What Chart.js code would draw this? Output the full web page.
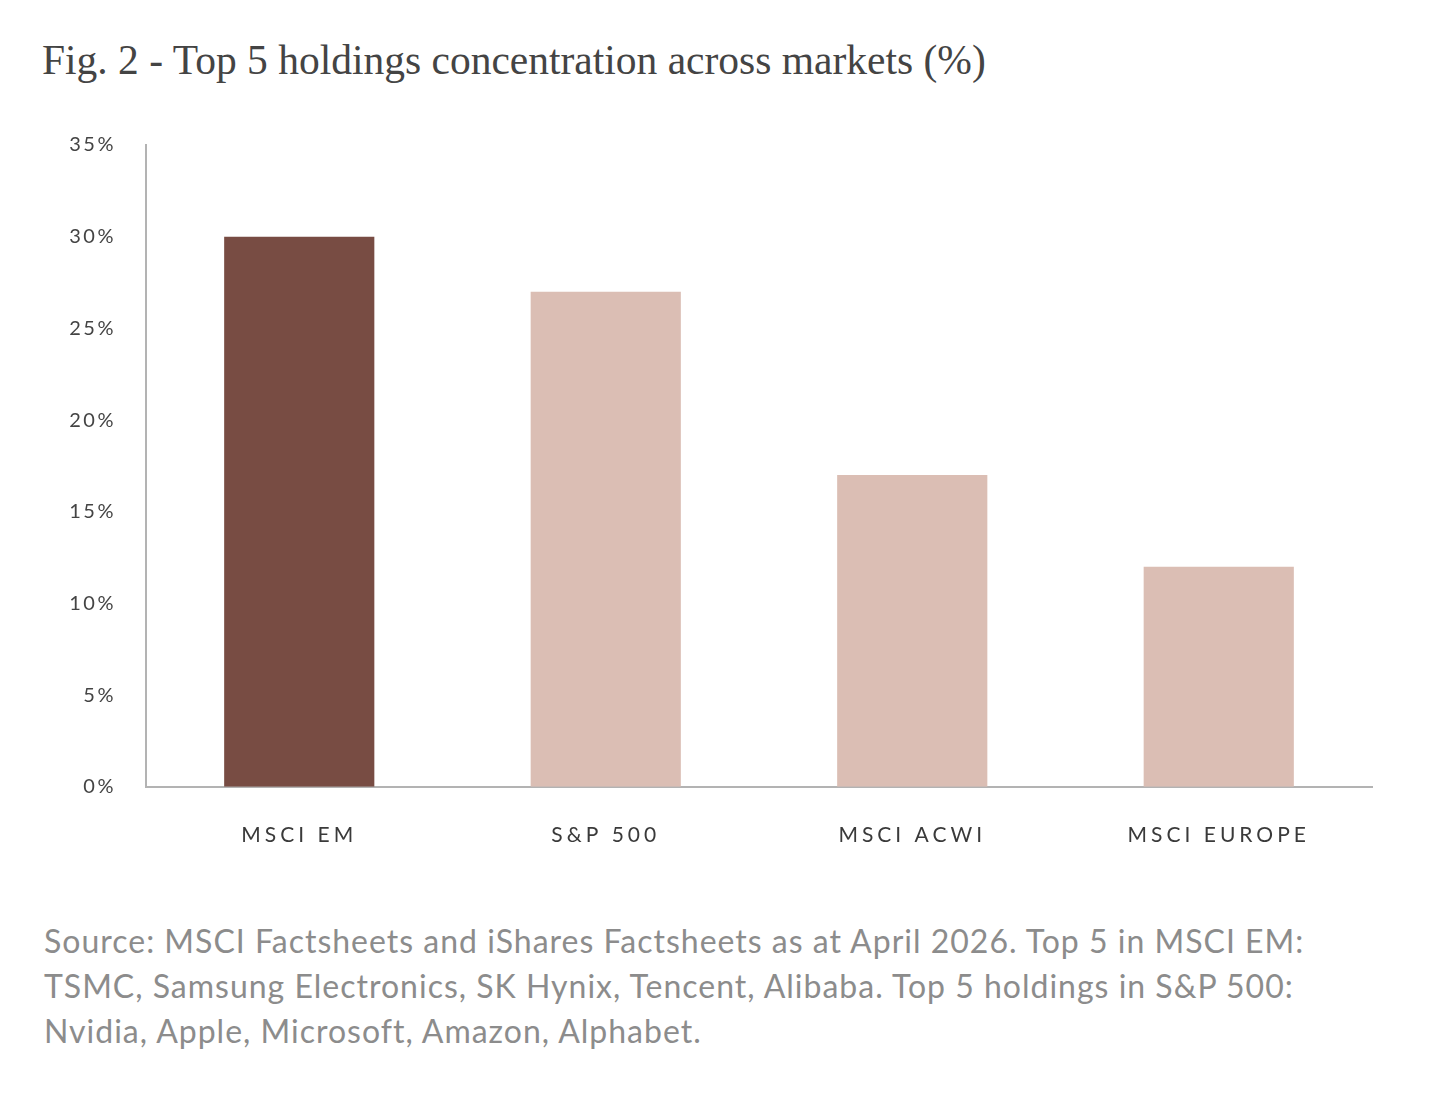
<!DOCTYPE html>
<html>
<head>
<meta charset="utf-8">
<script src="https://cdn.jsdelivr.net/npm/chart.js@4"></script>
<style>
    html, body { margin: 0; padding: 0; background: #fff; }
    body { width: 1444px; height: 1114px; position: relative; overflow: hidden; }
    #title {
        position: absolute; left: 42px; top: 40px;
        font-family: 'Liberation Serif', serif; font-size: 41.5px; line-height: 1; color: #444;
        white-space: nowrap;
    }
    #wrap { position: absolute; left: 0; top: 103px; width: 1444px; height: 781px; }
    #source {
        position: absolute; left: 44px; top: 918px;
        font-family: 'Lato', sans-serif; font-size: 32px; line-height: 45px; color: #8c8c8c;
        letter-spacing: 1px; white-space: nowrap;
    }
</style>
</head>
<body>
<div id="title">Fig. 2 - Top 5 holdings concentration across markets (%)</div>
<div id="wrap"><canvas id="graph"></canvas></div>
<div id="source">Source: MSCI Factsheets and iShares Factsheets as at April 2026. Top 5 in MSCI EM:<br>TSMC, Samsung Electronics, SK Hynix, Tencent, Alibaba. Top 5 holdings in S&amp;P 500:<br>Nvidia, Apple, Microsoft, Amazon, Alphabet.</div>
<script>
const markets = ['MSCI EM', 'S&P 500', 'MSCI ACWI', 'MSCI EUROPE'];
const top5Share = [30, 27, 17, 12];
const barColors = ['#784c43', '#dbbeb4', '#dbbeb4', '#dbbeb4'];
const yTicks = [0, 5, 10, 15, 20, 25, 30, 35];

// letter spacing for the axis labels (canvas ignores css letter-spacing)
function trackLabels(scale, spacing) {
    if (scale._tracked) return;
    const orig = scale.drawLabels;
    scale.drawLabels = function (area) {
        const ctx = this.ctx;
        ctx.save();
        ctx.letterSpacing = spacing;
        orig.call(this, area);
        ctx.restore();
    };
    scale._tracked = true;
}

const spacedLabels = {
    id: 'spacedLabels',
    afterLayout: function (chart) {
        trackLabels(chart.scales.x, '4px');
        trackLabels(chart.scales.y, '2.5px');
    }
};

const context = document.getElementById('graph');
new Chart(context, {
    type: 'bar',
    data: {
        labels: markets,
        datasets: [{
            data: top5Share,
            backgroundColor: barColors,
            barPercentage: 0.49,
            categoryPercentage: 1
        }]
    },
    options: {
        responsive: true,
        maintainAspectRatio: false,
        animation: false,
        layout: { padding: { left: 0, right: 72, top: 22, bottom: 0 } },
        plugins: { legend: { display: false }, tooltip: { enabled: false } },
        scales: {
            x: {
                grid: { display: false, drawTicks: false },
                border: { color: '#b3b3b3', width: 2 },
                ticks: {
                    color: '#3a3a3a', padding: 36,
                    font: { family: 'Lato', size: 21 }
                }
            },
            y: {
                min: 0, max: 35,
                afterFit: function (scale) { scale.width = 146; },
                afterBuildTicks: function (scale) {
                    scale.ticks = yTicks.map(function (v) { return { value: v }; });
                },
                grid: { display: false, drawTicks: false },
                border: { color: '#b3b3b3', width: 2 },
                ticks: {
                    color: '#444', padding: 30,
                    font: { family: 'Lato', size: 20 },
                    callback: function (v) { return v + '%'; }
                }
            }
        }
    },
    plugins: [spacedLabels]
});
</script>
</body>
</html>
